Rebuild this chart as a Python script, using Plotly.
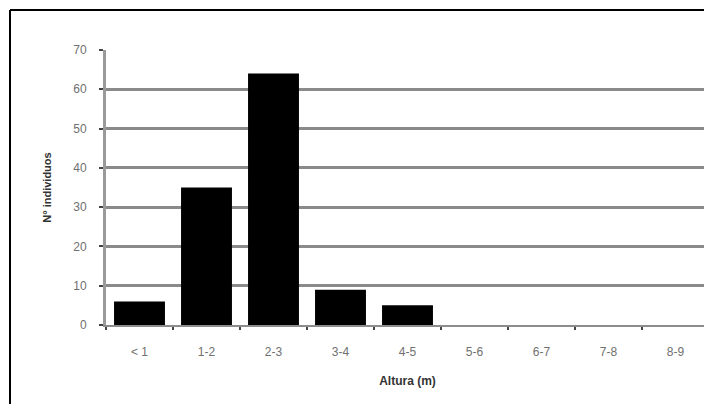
import plotly.graph_objects as go

categories = ["< 1", "1-2", "2-3", "3-4", "4-5", "5-6", "6-7", "7-8", "8-9"]
individuos = [6, 35, 64, 9, 5, 0, 0, 0, 0]
y_ticks = [0, 10, 20, 30, 40, 50, 60, 70]

# page body has an 8px margin: keep the figure inside the window (no scrollbars)
W, H = 704, 396
L, R, T, B = 98, 3, 42, 79
pw, ph = W - L - R, H - T - B

fig = go.Figure(go.Bar(
    x=categories, y=individuos,
    marker=dict(color="#000000", line=dict(width=0)),
))

def px_x(p):
    return (p - L) / pw

def px_y(p):
    return (H - B - p) / ph

border = dict(color="#000000", width=2)

fig.update_layout(
    width=W, height=H,
    margin=dict(l=L, r=R, t=T, b=B, autoexpand=False),
    paper_bgcolor="white", plot_bgcolor="white",
    bargap=0.24, showlegend=False,
    font=dict(family="Liberation Sans, Arial, sans-serif", size=11, color="#666666"),
    xaxis=dict(
        showgrid=False, showline=True, linecolor="#8c8c8c", linewidth=2,
        ticks="outside", tickson="boundaries", ticklen=3, tickcolor="#444444", tickwidth=2,
        ticklabelstandoff=15,
        tickfont=dict(size=12, color="#707070"),
        title=dict(text="<b>Altura (m)</b>", font=dict(size=12, color="#333333"), standoff=18),
    ),
    yaxis=dict(
        range=[0, 70], tickvals=y_ticks,
        showgrid=True, gridcolor="#8a8a8a", gridwidth=3,
        showline=True, linecolor="#9a9a9a", linewidth=3,
        ticks="outside", ticklen=4, tickcolor="#444444", tickwidth=2,
        ticklabelstandoff=10,
        tickfont=dict(size=12, color="#707070"),
        zeroline=False,
        title=dict(text="<b>N° individuos</b>", font=dict(size=11, color="#333333"), standoff=20),
    ),
    shapes=[
        dict(type="line", xref="paper", yref="paper",
             x0=px_x(2), x1=px_x(760), y0=px_y(2), y1=px_y(2), line=border),
        dict(type="line", xref="paper", yref="paper",
             x0=px_x(2), x1=px_x(2), y0=px_y(2), y1=px_y(460), line=border),
    ],
)

fig.write_html("out.html")
